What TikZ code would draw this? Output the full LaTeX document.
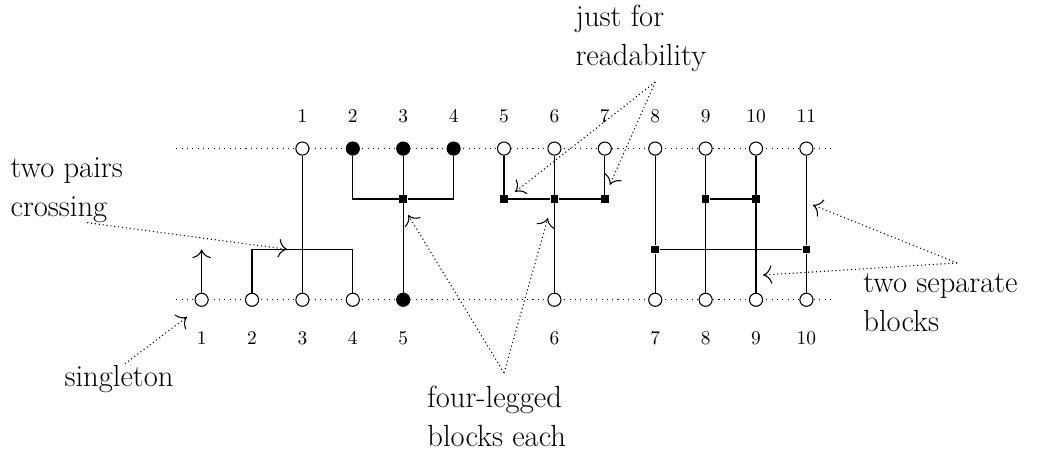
\documentclass[tikz,border=0pt]{standalone}
\usetikzlibrary{arrows.meta}
\begin{document}
\begin{tikzpicture}[
  line width=0.6pt,
  >={To[scale=1.7]},
  vert/.style={circle,draw,fill=white,inner sep=0pt,minimum size=0.26cm},
  full/.style={vert,fill=black},
  junc/.style={rectangle,fill=black,inner sep=0pt,minimum size=0.15cm},
  num/.style={anchor=base,inner sep=0pt,font=\fontsize{10.95}{13}\selectfont},
  note/.style={align=left,inner sep=0pt,font=\LARGE},
  guide/.style={dash pattern=on 0.6pt off 2.4pt},
  pointer/.style={dash pattern=on 0.6pt off 1.6pt,->}
]
\useasboundingbox (0,0) rectangle (20.615,8.948);
% rows
\coordinate (tl) at (3.5,6); \coordinate (tr) at (16.5,6);
\coordinate (bl) at (3.5,3); \coordinate (br) at (16.5,3);
\draw[guide] (tl) -- (tr);
\draw[guide] (bl) -- (br);
% top vertices
\node[vert] (t1) at (6,6) {};
\node[full] (t2) at (7,6) {};
\node[full] (t3) at (8,6) {};
\node[full] (t4) at (9,6) {};
\foreach \i/\x in {5/10,6/11,7/12,8/13,9/14,10/15,11/16}
  \node[vert] (t\i) at (\x,6) {};
% bottom vertices
\foreach \i/\x in {1/4,2/5,3/6,4/7}
  \node[vert] (b\i) at (\x,3) {};
\node[full] (b5) at (8,3) {};
\foreach \i/\x in {6/11,7/13,8/14,9/15,10/16}
  \node[vert] (b\i) at (\x,3) {};
% labels
\foreach \i/\x in {1/6,2/7,3/8,4/9,5/10,6/11,7/12,8/13,9/14,10/15,11/16}
  \node[num] (lt\i) at (\x,6.51) {\i};
\foreach \i/\x in {1/4,2/5,3/6,4/7,5/8,6/11,7/13,8/14,9/15,10/16}
  \node[num] (lb\i) at (\x,2.12) {\i};
% singleton
\coordinate (b1up) at (4,4);
\draw[->] (b1) -- (b1up);
% two pairs crossing
\draw (t1) -- (b3);
\coordinate (cr) at (6,4);
\draw (b2) |- (cr) -| (b4);
% first four-legged block
\node[junc] (s1) at (8,5) {};
\draw (t2) |- (s1) -| (t4);
\draw (t3) -- (s1) -- (b5);
% second four-legged block
\node[junc] (s2a) at (10,5) {};
\node[junc] (s2b) at (11,5) {};
\node[junc] (s2c) at (12,5) {};
\draw (t5) -- (s2a) -- (s2b) -- (s2c) -- (t7);
\draw (t6) -- (s2b) -- (b6);
% two separate blocks
\node[junc] (q1) at (13,4) {};
\node[junc] (q2) at (16,4) {};
\node[junc] (r1) at (14,5) {};
\node[junc] (r2) at (15,5) {};
\draw (t8) -- (q1) -- (b7);
\draw (t11) -- (q2) -- (b10);
\draw (q1) -- (q2);
\draw (t9) -- (r1) -- (b8);
\draw (t10) -- (r2) -- (b9);
\draw (r1) -- (r2);
% annotations
\node[note,anchor=north west] (ntwo) at (0.2,5.82) {two pairs\\crossing};
\coordinate (ntwoS) at (1.73,4.53);
\coordinate (ntwoE) at (5.7,4.0);
\draw[pointer] (ntwoS) -- (ntwoE);

\node[note,anchor=base west] (nsing) at (1.27,1.28) {singleton};
\coordinate (nsingS) at (2.48,1.73);
\coordinate (nsingE) at (3.71,2.66);
\draw[pointer] (nsingS) -- (nsingE);

\node[note,anchor=north west] (nfour) at (8.47,1.29) {four-legged\\blocks each};
\coordinate (nfourS) at (10.0,1.55);
\coordinate (nfourA) at (8.1,4.68);
\coordinate (nfourB) at (10.87,4.62);
\draw[pointer] (nfourS) -- (nfourA);
\draw[pointer] (nfourS) -- (nfourB);

\node[note,anchor=north west] (njust) at (11.41,8.85) {just for\\readability};
\coordinate (njustS) at (13.0,7.32);
\coordinate (njustA) at (10.22,5.14);
\coordinate (njustB) at (12.10,5.28);
\draw[pointer] (njustS) -- (njustA);
\draw[pointer] (njustS) -- (njustB);

\node[note,anchor=north west] (nsep) at (17.12,3.53) {two separate\\blocks};
\coordinate (nsepS) at (18.99,3.73);
\coordinate (nsepA) at (16.13,4.88);
\coordinate (nsepB) at (15.14,3.49);
\draw[pointer] (nsepS) -- (nsepA);
\draw[pointer] (nsepS) -- (nsepB);
\end{tikzpicture}
\end{document}
